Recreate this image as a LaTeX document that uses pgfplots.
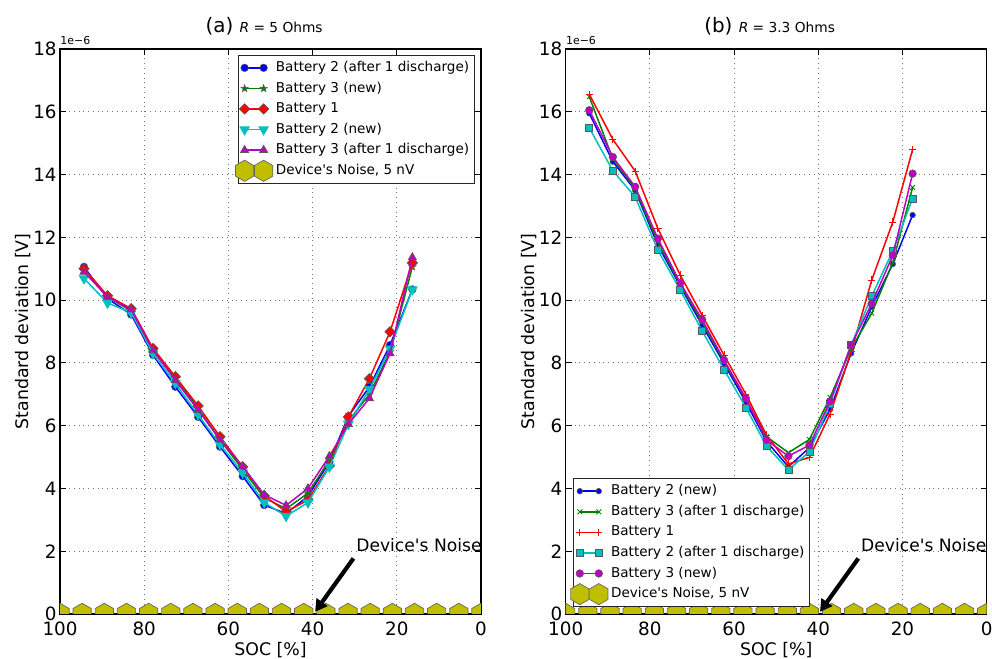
\documentclass[border=0pt]{standalone}
\usepackage{fontspec}
\setmainfont{DejaVu Sans}[Ligatures=TeXOff]
\usepackage{pgfplots}
\usepackage{pgfplotstable}
\pgfplotsset{compat=1.18}
\usetikzlibrary{arrows.meta}

\definecolor{mblue}{rgb}{0,0,1}
\definecolor{mgreen}{rgb}{0,0.5,0}
\definecolor{mred}{rgb}{1,0,0}
\definecolor{mcyan}{rgb}{0,0.75,0.75}
\definecolor{mmag}{rgb}{0.75,0,0.75}
\definecolor{myel}{rgb}{0.75,0.75,0}

\pgfdeclareplotmark{hexagon}{%
  \pgfpathmoveto{\pgfpointpolar{90}{\pgfplotmarksize}}%
  \pgfpathlineto{\pgfpointpolar{150}{\pgfplotmarksize}}%
  \pgfpathlineto{\pgfpointpolar{210}{\pgfplotmarksize}}%
  \pgfpathlineto{\pgfpointpolar{270}{\pgfplotmarksize}}%
  \pgfpathlineto{\pgfpointpolar{330}{\pgfplotmarksize}}%
  \pgfpathlineto{\pgfpointpolar{30}{\pgfplotmarksize}}%
  \pgfpathclose\pgfusepathqfillstroke}
\pgfdeclareplotmark{fstar}{%
  \pgfpathmoveto{\pgfpointpolar{90}{\pgfplotmarksize}}%
  \pgfpathlineto{\pgfpointpolar{126}{0.4\pgfplotmarksize}}%
  \pgfpathlineto{\pgfpointpolar{162}{\pgfplotmarksize}}%
  \pgfpathlineto{\pgfpointpolar{198}{0.4\pgfplotmarksize}}%
  \pgfpathlineto{\pgfpointpolar{234}{\pgfplotmarksize}}%
  \pgfpathlineto{\pgfpointpolar{270}{0.4\pgfplotmarksize}}%
  \pgfpathlineto{\pgfpointpolar{306}{\pgfplotmarksize}}%
  \pgfpathlineto{\pgfpointpolar{342}{0.4\pgfplotmarksize}}%
  \pgfpathlineto{\pgfpointpolar{18}{\pgfplotmarksize}}%
  \pgfpathlineto{\pgfpointpolar{54}{0.4\pgfplotmarksize}}%
  \pgfpathclose\pgfusepathqfillstroke}
\pgfdeclareplotmark{mdiamond}{%
  \pgfpathmoveto{\pgfqpoint{0pt}{\pgfplotmarksize}}%
  \pgfpathlineto{\pgfqpoint{\pgfplotmarksize}{0pt}}%
  \pgfpathlineto{\pgfqpoint{0pt}{-\pgfplotmarksize}}%
  \pgfpathlineto{\pgfqpoint{-\pgfplotmarksize}{0pt}}%
  \pgfpathclose\pgfusepathqfillstroke}

\pgfplotstableread{
x b g r c m
94.3 11.06 11.00 11.00 10.69 10.90
88.7 10.05 10.10 10.14 9.91 10.10
83.1 9.54 9.65 9.73 9.60 9.70
77.9 8.25 8.40 8.46 8.30 8.40
72.6 7.24 7.50 7.56 7.35 7.45
67.2 6.28 6.55 6.63 6.35 6.50
62.0 5.33 5.55 5.65 5.40 5.55
56.6 4.39 4.60 4.69 4.50 4.70
51.5 3.47 3.70 3.77 3.55 3.80
46.3 3.20 3.35 3.26 3.12 3.46
41.1 3.75 3.85 3.63 3.55 4.00
36.0 4.85 4.90 4.72 4.69 5.03
31.5 6.30 6.15 6.28 6.05 6.05
26.5 7.24 7.00 7.50 7.16 6.87
21.6 8.57 8.35 8.99 8.45 8.30
16.3 10.34 11.06 11.19 10.34 11.36
}\dataA

\pgfplotstableread{
x b g r c m
94.4 15.95 16.48 16.56 15.49 16.05
88.8 14.41 14.50 15.12 14.12 14.56
83.5 13.50 13.55 14.11 13.29 13.61
78.1 11.75 11.85 12.28 11.59 11.96
72.8 10.45 10.50 10.80 10.32 10.55
67.6 9.20 9.30 9.52 9.02 9.38
62.4 7.98 8.05 8.25 7.79 8.09
57.2 6.75 6.85 7.00 6.58 6.87
52.3 5.50 5.65 5.70 5.35 5.54
47.1 4.69 5.14 4.78 4.59 5.03
42.1 5.30 5.56 4.99 5.17 5.38
37.2 6.52 6.90 6.37 6.70 6.78
32.2 8.30 8.45 8.35 8.57 8.57
27.3 9.79 9.58 10.64 10.13 9.89
22.3 11.15 11.20 12.49 11.57 11.43
17.6 12.71 13.59 14.80 13.24 14.03
}\dataB

\pgfplotstableread{
x y
100 0.005
94.737 0.005
89.474 0.005
84.211 0.005
78.947 0.005
73.684 0.005
68.421 0.005
63.158 0.005
57.895 0.005
52.632 0.005
47.368 0.005
42.105 0.005
36.842 0.005
31.579 0.005
26.316 0.005
21.053 0.005
15.789 0.005
10.526 0.005
5.263 0.005
0 0.005
}\noise

\pgfplotsset{
  myaxis/.style={
    scale only axis, width=210.5bp, height=282.5bp,
    xmin=0, xmax=100, x dir=reverse, ymin=0, ymax=18,
    xtick={0,20,...,100}, ytick={0,2,...,18},
    grid=major, major grid style={dotted, black!55, line width=0.45bp},
    tick align=inside, tick pos=both, major tick length=3bp,
    tick style={black, line width=0.45bp},
    axis line style={black, line width=0.6bp},
    ticklabel style={font=\fontsize{9.2}{10}\selectfont},
    /pgf/number format/assume math mode=true,
    xticklabel style={inner sep=0pt, anchor=north, yshift=-3.8bp},
    yticklabel style={inner sep=0pt, anchor=east, xshift=-1.5bp},
    label style={font=\fontsize{8.7}{10}\selectfont},
    xlabel={SOC [\%]},
    ylabel={Standard deviation [V]},
    xlabel style={at={(axis description cs:0.5,-0.0637)}, anchor=center},
    ylabel style={at={(axis description cs:-0.0879,0.5)}, anchor=center},
    clip mode=individual,
    clip marker paths=true,
    every axis plot/.append style={line width=0.75bp},
    legend cell align=left,
    legend style={draw=black!85, line width=0.5bp, fill=white,
      font=\fontsize{6.8}{8}\selectfont, inner xsep=0.8bp, inner ysep=1bp,
      nodes={inner sep=1.85bp}, row sep=0pt},
    legend image code/.code={%
      \begin{pgfinterruptboundingbox}\draw[##1] plot coordinates {(0bp,0bp) (9.5bp,0bp)};\end{pgfinterruptboundingbox}%
      \path[draw=none, fill=none] (-2.5bp,-2bp) rectangle (13.8bp,2bp);},
  },
  mk/.style={mark options={solid, draw=black!65, line width=0.3bp, fill=#1}},
  noiseplot/.style={only marks, mark=hexagon, mark size=5.3bp,
    mark options={draw=black!60, line width=0.35bp, fill=myel},
    legend image code/.code={%
      \begin{pgfinterruptboundingbox}\draw[##1] plot coordinates {(0bp,0bp) (9.5bp,0bp)};\end{pgfinterruptboundingbox}%
      \path[draw=none, fill=none] (-2.5bp,-2bp) rectangle (13.8bp,2bp);}},
}

\begin{document}
\begin{tikzpicture}
\useasboundingbox (-30bp,-22.5bp) rectangle (466bp,307bp);

% ---------- (a)
\begin{axis}[myaxis, at={(0bp,0bp)}, anchor=south west,
  legend style={at={(1,1)}, anchor=north east, xshift=-3bp, yshift=-3bp}]
\addplot[mblue, mark=*, mark size=1.9bp, mk=mblue] table[x=x,y=b] {\dataA};
\addlegendentry{Battery 2 (after 1 discharge)}
\addplot[mgreen, mark=fstar, mark size=1.9bp, mk=mgreen] table[x=x,y=g] {\dataA};
\addlegendentry{Battery 3 (new)}
\addplot[mred, mark=mdiamond, mark size=2.6bp, mk=mred] table[x=x,y=r] {\dataA};
\addlegendentry{Battery 1}
\addplot[mcyan, mark=triangle*, mark size=2.4bp, mk=mcyan, mark options={rotate=180}] table[x=x,y=c] {\dataA};
\addlegendentry{Battery 2 (new)}
\addplot[mmag, mark=triangle*, mark size=2.4bp, mk=mmag] table[x=x,y=m] {\dataA};
\addlegendentry{Battery 3 (after 1 discharge)}
\addplot[myel, noiseplot] table[x=x,y=y] {\noise};
\addlegendentry{Device's Noise, 5 nV}
\draw[black, line width=2.1bp, -{Triangle[length=6bp,width=6.5bp]}] (axis cs:30.3,1.77) -- (axis cs:39.4,0.07);
\node[anchor=base west, inner sep=0pt, font=\fontsize{8.6}{10}\selectfont] at (axis cs:29.7,1.98) {Device's Noise};
\node[anchor=base west, inner sep=0pt, font=\fontsize{5.5}{6}\selectfont] at (rel axis cs:0,1) [yshift=2bp] {1e−6};
\node[anchor=base, inner sep=0pt, font=\fontsize{10}{12}\selectfont] at (rel axis cs:0.5,1) [yshift=8bp, xshift=-3.2bp] {(a) {\fontsize{6.9}{8}\selectfont\textit{R} = 5 Ohms}};
\end{axis}

% ---------- (b)
\begin{axis}[myaxis, at={(252.85bp,0bp)}, anchor=south west,
  legend style={at={(0,0)}, anchor=south west, xshift=3.5bp, yshift=3.5bp}]
\addplot[mblue, mark=*, mark size=1.4bp, mk=mblue] table[x=x,y=b] {\dataB};
\addlegendentry{Battery 2 (new)}
\addplot[mgreen, mark=x, mark size=1.7bp, mark options={solid, draw=mgreen, line width=0.45bp}] table[x=x,y=g] {\dataB};
\addlegendentry{Battery 3 (after 1 discharge)}
\addplot[mred, mark=+, mark size=1.8bp, mark options={solid, draw=mred, line width=0.45bp}] table[x=x,y=r] {\dataB};
\addlegendentry{Battery 1}
\addplot[mcyan, mark=square*, mark size=1.75bp, mk=mcyan] table[x=x,y=c] {\dataB};
\addlegendentry{Battery 2 (after 1 discharge)}
\addplot[mmag, mark=*, mark size=1.9bp, mk=mmag] table[x=x,y=m] {\dataB};
\addlegendentry{Battery 3 (new)}
\addplot[myel, noiseplot] table[x=x,y=y] {\noise};
\addlegendentry{Device's Noise, 5 nV}
\draw[black, line width=2.1bp, -{Triangle[length=6bp,width=6.5bp]}] (axis cs:30.5,1.77) -- (axis cs:39.6,0.07);
\node[anchor=base west, inner sep=0pt, font=\fontsize{8.6}{10}\selectfont] at (axis cs:29.9,1.98) {Device's Noise};
\node[anchor=base west, inner sep=0pt, font=\fontsize{5.5}{6}\selectfont] at (rel axis cs:0,1) [yshift=2bp] {1e−6};
\node[anchor=base, inner sep=0pt, font=\fontsize{10}{12}\selectfont] at (rel axis cs:0.5,1) [yshift=8bp, xshift=-3.3bp] {(b) {\fontsize{6.9}{8}\selectfont\textit{R} = 3.3 Ohms}};
\end{axis}
\end{tikzpicture}
\end{document}
